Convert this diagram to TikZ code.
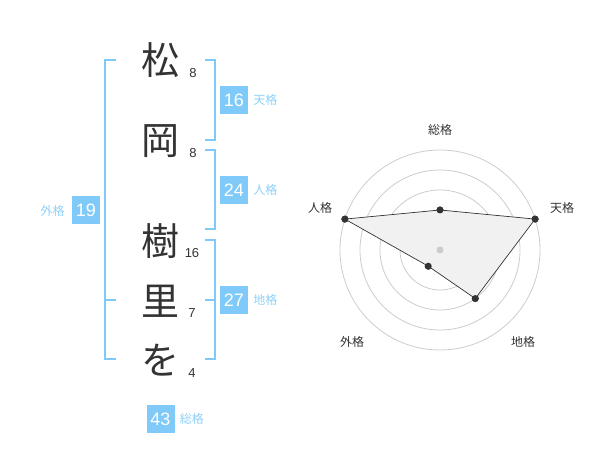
\documentclass[tikz,border=0pt]{standalone}
\usepackage{fontspec}
\setmainfont{Liberation Sans}
\newfontfamily\jpfont{Noto Sans CJK JP}
\usetikzlibrary{positioning}
\definecolor{kakublue}{HTML}{80CAF9}
\definecolor{kakutext}{HTML}{8ED0F8}
\definecolor{inkgray}{HTML}{333333}
\definecolor{ringgray}{HTML}{CCCCCC}
\definecolor{areagray}{HTML}{F1F1F1}

\begin{document}
\begin{tikzpicture}[x=1pt,y=-1pt]
\tikzstyle{every node}+=[inner sep=0pt]
\tikzstyle{kanji}=[font=\jpfont\fontsize{38}{38}\selectfont, text=inkgray]
\tikzstyle{strokes}=[font=\fontsize{13}{13}\selectfont, text=inkgray]
\tikzstyle{kakubox}=[fill=kakublue, minimum size=28pt, text=white, font=\fontsize{18}{18}\selectfont]
\tikzstyle{kakuname}=[font=\jpfont\fontsize{12}{12}\selectfont, text=kakutext]
\tikzstyle{bracket}=[kakublue, line width=1.6pt]
\tikzstyle{axisname}=[font=\jpfont\fontsize{12}{12}\selectfont, text=inkgray]
\tikzstyle{dot}=[circle, fill=inkgray, minimum size=7pt]
\useasboundingbox (0,0) rectangle (600,470);
% name
\node [kanji] (c1) at (160,60) {松};
\node [strokes] (s1) at (193,73) {8};
\node [kanji] (c2) at (160,141) {岡};
\node [strokes] (s2) at (193,153) {8};
\node [kanji] (c3) at (160,241) {樹};
\node [strokes] (s3) at (192,253) {16};
\node [kanji] (c4) at (160,301) {里};
\node [strokes] (s4) at (192,313) {7};
\node [kanji] (c5) at (160,360) {を};
\node [strokes] (s5) at (192,373) {4};
% brackets
\draw [bracket] (205,60) -- (215,60) -- (215,140) -- (205,140);
\draw [bracket] (205,150) -- (215,150) -- (215,229) -- (205,229);
\draw [bracket] (205,240) -- (215,240) -- (215,359) -- (205,359);
\draw [bracket] (205,300) -- (215,300);
\draw [bracket] (116,60) -- (105,60) -- (105,359) -- (116,359);
\draw [bracket] (105,300) -- (116,300);
% scores
\node [kakubox] (ten) at (234,100) {16};
\node [kakuname, right=5pt of ten] (tenname) {天格};
\node [kakubox] (jin) at (234,190) {24};
\node [kakuname, right=5pt of jin] (jinname) {人格};
\node [kakubox] (chi) at (234,300) {27};
\node [kakuname, right=5pt of chi] (chiname) {地格};
\node [kakubox] (gai) at (86,210.5) {19};
\node [kakuname, left=7pt of gai] (gainame) {外格};
\node [kakubox] (sou) at (160.5,419) {43};
\node [kakuname, right=5pt of sou] (souname) {総格};
% radar
\begin{scope}[shift={(440,250)}]
\foreach \r in {20,40,60,80,100}
  \draw [ringgray, line width=0.8pt] (0,0) circle (\r pt);
\node [dot] (pSou) at (90:40pt) {};
\node [dot] (pTen) at (18:100pt) {};
\node [dot] (pChi) at (-54:60pt) {};
\node [dot] (pGai) at (-126:20pt) {};
\node [dot] (pJin) at (162:100pt) {};
\fill [areagray] (pSou.center) -- (pTen.center) -- (pChi.center) -- (pGai.center) -- (pJin.center) -- cycle;
\draw [inkgray, line width=0.7pt] (pSou.center) -- (pTen.center) -- (pChi.center) -- (pGai.center) -- (pJin.center) -- cycle;
\foreach \p in {pSou,pTen,pChi,pGai,pJin}
  \fill [inkgray] (\p) circle (3.5pt);
\fill [ringgray] (0,0) circle (3.5pt);
\node [axisname] (aSou) at (0,-120) {総格};
\node [axisname] (aTen) at (122,-42) {天格};
\node [axisname] (aJin) at (-120,-42) {人格};
\node [axisname] (aGai) at (-88,92) {外格};
\node [axisname] (aChi) at (83,92) {地格};
\end{scope}
\end{tikzpicture}
\end{document}
